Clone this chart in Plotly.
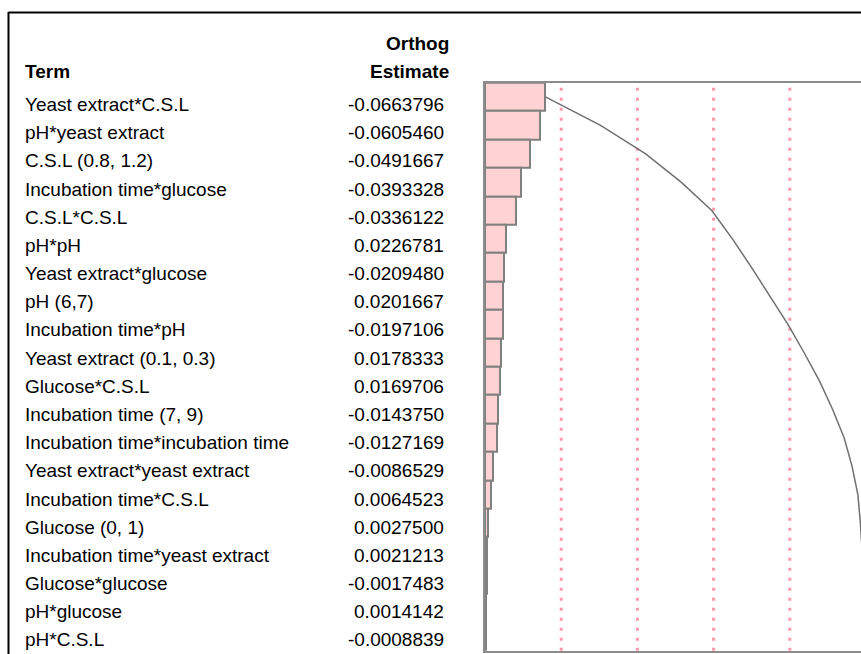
import plotly.graph_objects as go
import numpy as np

terms = [
    "Yeast extract*C.S.L", "pH*yeast extract", "C.S.L (0.8, 1.2)",
    "Incubation time*glucose", "C.S.L*C.S.L", "pH*pH", "Yeast extract*glucose",
    "pH (6,7)", "Incubation time*pH", "Yeast extract (0.1, 0.3)", "Glucose*C.S.L",
    "Incubation time (7, 9)", "Incubation time*incubation time",
    "Yeast extract*yeast extract", "Incubation time*C.S.L", "Glucose (0, 1)",
    "Incubation time*yeast extract", "Glucose*glucose", "pH*glucose", "pH*C.S.L",
]
estimates = [
    -0.0663796, -0.0605460, -0.0491667, -0.0393328, -0.0336122, 0.0226781,
    -0.0209480, 0.0201667, -0.0197106, 0.0178333, 0.0169706, -0.0143750,
    -0.0127169, -0.0086529, 0.0064523, 0.0027500, 0.0021213, -0.0017483,
    0.0014142, -0.0008839,
]
estimate_labels = [f"{v:.7f}" for v in estimates]

W, H = 861, 654
def px(x):
    return x / W
def py(y):
    return 1 - y / H

abs_est = np.abs(estimates)
cum = np.cumsum(abs_est)
total = cum[-1]

PANEL_L, PANEL_T, PANEL_B = 485, 82.7, 650.7
FULL_W = 381.0
VIS_W = W - PANEL_L

fig = go.Figure()
fig.add_trace(go.Bar(
    x=abs_est, y=terms, orientation="h",
    marker=dict(color="#ffd3d3", line=dict(color="#808080", width=2)),
    width=1.0, hoverinfo="x+y", showlegend=False,
))
fig.add_trace(go.Scatter(
    x=cum, y=terms, mode="lines",
    line=dict(color="#707070", width=1.5), showlegend=False, hoverinfo="skip",
))

shapes = []
for frac in [0.2, 0.4, 0.6, 0.8]:
    shapes.append(dict(
        type="line", xref="x", yref="paper",
        x0=total * frac, x1=total * frac, y0=py(PANEL_B), y1=py(PANEL_T),
        line=dict(color="#ff99aa", width=3, dash="3px,7px"), layer="below",
    ))
# outer frame (left and top)
shapes.append(dict(type="line", xref="paper", yref="paper",
                   x0=px(8.5), x1=px(8.5), y0=py(12), y1=-0.05,
                   line=dict(color="#000000", width=2)))
shapes.append(dict(type="line", xref="paper", yref="paper",
                   x0=px(8.5), x1=1.05, y0=py(12.5), y1=py(12.5),
                   line=dict(color="#000000", width=2)))

FONT = "Liberation Sans, Arial, sans-serif"
annotations = []
annotations.append(dict(text="<b>Orthog</b>", xref="paper", yref="paper",
                        x=px(451), y=py(43.5), xanchor="right", yanchor="middle",
                        showarrow=False, font=dict(family=FONT, size=19, color="black")))
annotations.append(dict(text="<b>Estimate</b>", xref="paper", yref="paper",
                        x=px(451), y=py(71.7), xanchor="right", yanchor="middle",
                        showarrow=False, font=dict(family=FONT, size=19, color="black")))
annotations.append(dict(text="<b>Term</b>", xref="paper", yref="paper",
                        x=px(23), y=py(71.7), xanchor="left", yanchor="middle",
                        showarrow=False, font=dict(family=FONT, size=19, color="black")))
for i, (t, lab) in enumerate(zip(terms, estimate_labels)):
    yc = 104.5 + 28.18 * i
    annotations.append(dict(text=t, xref="paper", yref="paper",
                            x=px(23), y=py(yc), xanchor="left", yanchor="middle",
                            showarrow=False, font=dict(family=FONT, size=19, color="black")))
    annotations.append(dict(text=lab, xref="paper", yref="paper",
                            x=px(446), y=py(yc), xanchor="right", yanchor="middle",
                            showarrow=False, font=dict(family=FONT, size=19, color="black")))

fig.update_layout(
    width=W, height=H,
    margin=dict(l=0, r=0, t=0, b=0),
    paper_bgcolor="white", plot_bgcolor="white",
    bargap=0,
    shapes=shapes, annotations=annotations,
    xaxis=dict(domain=[px(PANEL_L), 1], range=[0, total * VIS_W / FULL_W],
               showgrid=False, zeroline=False, showticklabels=False, ticks="",
               showline=True, linecolor="#8c8c8c", linewidth=2, mirror=True),
    yaxis=dict(domain=[py(PANEL_B), py(PANEL_T)],
               range=[len(terms) - 0.5, -0.5], autorange=False,
               showgrid=False, zeroline=False, showticklabels=False, ticks="",
               showline=True, linecolor="#8c8c8c", linewidth=2),
)

fig.write_html(
    "out.html",
    config={"displayModeBar": False},
    post_script="document.body.style.margin='0';document.body.style.overflow='hidden';",
)
